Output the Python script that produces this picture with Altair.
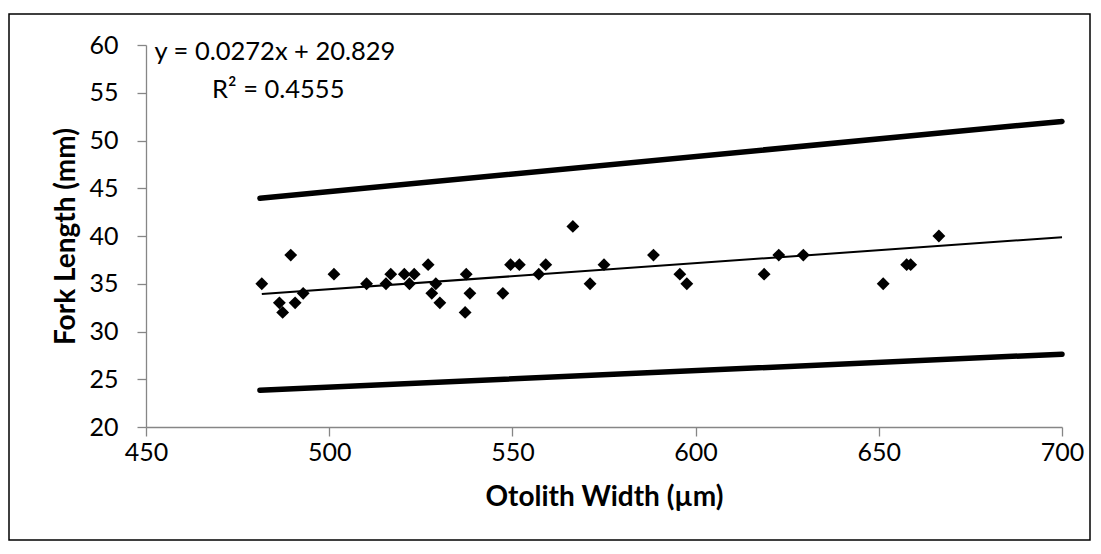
import altair as alt
import pandas as pd

# Scatter data: otolith width (µm) vs fork length (mm)
otolith_width = [481.6, 486.4, 487.3, 489.5, 490.7, 492.9, 501.3, 510.2, 515.5, 516.8,
                 520.5, 521.9, 523.2, 527.0, 528.0, 529.1, 530.2, 537.1, 537.4, 538.4,
                 547.4, 549.5, 551.9, 557.2, 559.1, 566.5, 571.2, 575.0, 588.5, 595.7,
                 597.6, 618.7, 622.7, 629.4, 651.2, 657.6, 658.7, 666.4]
fork_length = [35, 33, 32, 38, 33, 34, 36, 35, 35, 36,
               36, 35, 36, 37, 34, 35, 33, 32, 36, 34,
               34, 37, 37, 36, 37, 41, 35, 37, 38, 36,
               35, 36, 38, 38, 35, 37, 37, 40]

# Trendline (linear fit) end points
trend_x = [481.6, 700]
trend_y = [33.93, 39.87]

# Upper / lower bounds (thick lines)
upper_x = [481.1, 700]
upper_y = [43.96, 52.0]
lower_x = [481.1, 700]
lower_y = [23.85, 27.63]

eq_text = ["y = 0.0272x + 20.829", "R\u00b2 = 0.4555"]
eq_x = [485.2, 486.1]
eq_y = [59.3, 55.25]

x_ticks = [450, 500, 550, 600, 650, 700]
y_ticks = [20, 25, 30, 35, 40, 45, 50, 55, 60]

FONT = "Lato"

pts = pd.DataFrame({"w": otolith_width, "fl": fork_length})
trend = pd.DataFrame({"w": trend_x, "fl": trend_y})
bounds = pd.DataFrame({
    "w": upper_x + lower_x,
    "fl": upper_y + lower_y,
    "band": ["upper"] * len(upper_x) + ["lower"] * len(lower_x),
})
ann = pd.DataFrame({"t": eq_text, "w": eq_x, "fl": eq_y})

xs = alt.Scale(domain=[450, 700], nice=False, zero=False)
ys = alt.Scale(domain=[20, 60], nice=False, zero=False)

x_enc = alt.X("w:Q", scale=xs, axis=alt.Axis(
    title="Otolith Width (\u00b5m)", values=x_ticks, labelPadding=4,
    titleY=70, titleBaseline="middle"))
y_enc = alt.Y("fl:Q", scale=ys, axis=alt.Axis(
    title="Fork Length (mm)", values=y_ticks, labelPadding=19,
    titleX=-80, titleBaseline="middle"))

points = alt.Chart(pts).mark_point(
    shape="diamond", filled=True, color="black", size=165, opacity=1
).encode(x=x_enc, y=y_enc)

trend_line = alt.Chart(trend).mark_line(
    color="black", strokeWidth=2
).encode(x=alt.X("w:Q", scale=xs), y=alt.Y("fl:Q", scale=ys))

bound_lines = alt.Chart(bounds).mark_line(
    color="black", strokeWidth=5.5, strokeCap="round"
).encode(x=alt.X("w:Q", scale=xs), y=alt.Y("fl:Q", scale=ys), detail="band:N")

annot = alt.Chart(ann).mark_text(
    font=FONT, fontSize=25.5, color="black", align="center", baseline="middle"
).encode(x=alt.X("w:Q", scale=xs), y=alt.Y("fl:Q", scale=ys), text="t:N")

border = alt.Chart(pd.DataFrame({"a": [0]})).mark_rect(
    filled=False, stroke="black", strokeWidth=1.5
).encode(x=alt.value(-137), x2=alt.value(944), y=alt.value(-31), y2=alt.value(495))

chart = alt.layer(bound_lines, trend_line, points, annot, border).properties(
    width=916, height=382,
    autosize=alt.AutoSizeParams(type="none"),
    padding={"left": 138, "top": 37, "right": 31, "bottom": 119},
    background="white",
).configure_view(strokeWidth=0).configure_axis(
    grid=False, domainColor="#868686", tickColor="#868686", domainWidth=1.3,
    tickWidth=1.3, tickSize=9, labelFont=FONT, labelFontSize=25,
    labelColor="black", titleFont=FONT, titleFontSize=28, titleFontWeight="bold",
    titleColor="black", labelFlush=False, labelOverlap=False,
)

chart.save("out.html", embed_options={"renderer": "svg", "actions": False})
